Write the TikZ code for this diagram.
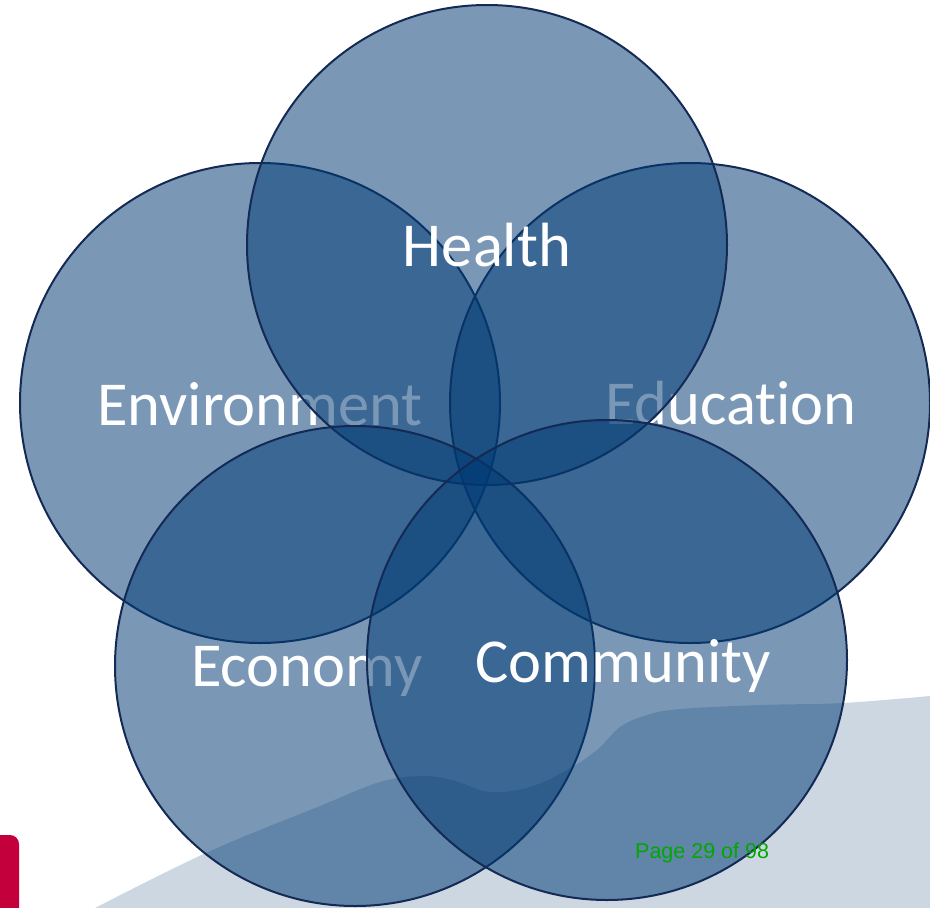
\documentclass[tikz,border=0pt]{standalone}
\usepackage{fontspec}
\setmainfont{Carlito}[Ligatures={NoCommon}]
\newfontfamily\pagefont{Liberation Sans}
\definecolor{circfill}{RGB}{0,58,116}
\definecolor{circline}{RGB}{20,42,85}
\definecolor{wavecol}{RGB}{204,215,226}
\definecolor{crimson}{RGB}{196,0,60}
\definecolor{pagegreen}{RGB}{0,168,0}
\tikzset{
  venn/.style={circle, draw=circline, line width=2pt, fill=circfill, fill opacity=0.52, draw opacity=1, minimum size=480pt, inner sep=0pt},
  lbl/.style={text=white, anchor=base, inner sep=0pt, font=\fontsize{62.5}{72}\selectfont},
}
\begin{document}
\begin{tikzpicture}[x=1pt,y=-1pt]
\useasboundingbox (0,0) rectangle (930,908);
\clip (0,0) rectangle (930,908);
% background wave
\fill[wavecol] plot[smooth, tension=0.6] coordinates {(95,908) (208,852) (320,806) (380,782) (423,776) (455,781) (490,792) (530,787) (567,770) (597,750) (620,727) (647,715) (680,709) (760,705) (843,703) (930,696)} -- (930,908) -- cycle;
% red tab
\fill[crimson, rounded corners=9pt] (-20,950) rectangle (19,835);
% circles and labels
\node[venn] (env) at (260,403) {};
\node[lbl] (envt) at (260,425) {Environment};
\node[venn] (edu) at (690,403) {};
\node[lbl] (edut) at (731,424) {Education};
\node[venn] (hea) at (487,245) {};
\node[lbl] (heat) at (487,266) {Health};
\node[venn] (eco) at (355,666) {};
\node[lbl] (ecot) at (307,686) {Economy};
\node[venn] (com) at (607,660) {};
\node[lbl] (comt) at (623,682) {Community};
% page text
\node[anchor=base west, inner sep=0pt, text=pagegreen, font=\pagefont\fontsize{21.5}{24}\selectfont] (page) at (635,858) {Page 29 of 98};
\end{tikzpicture}
\end{document}
